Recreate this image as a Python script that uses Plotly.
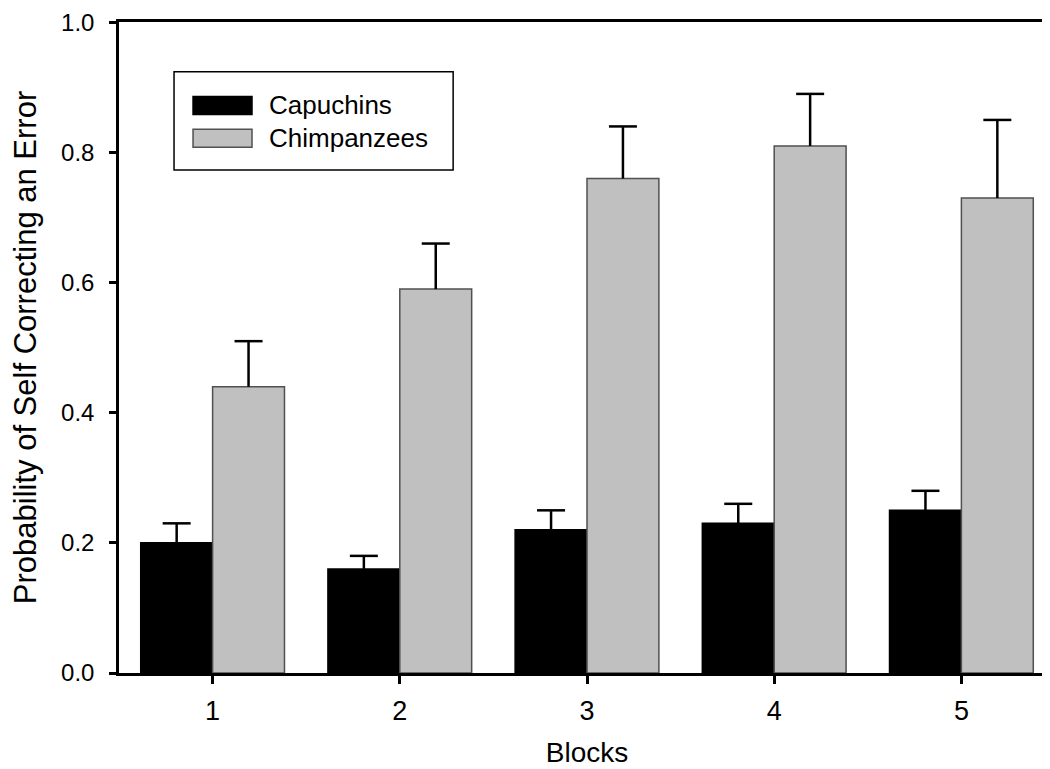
import plotly.graph_objects as go

blocks = [1, 2, 3, 4, 5]
series_names = ["Capuchins", "Chimpanzees"]
capuchins = [0.20, 0.16, 0.22, 0.23, 0.25]
capuchins_err = [0.03, 0.02, 0.03, 0.03, 0.03]
chimpanzees = [0.44, 0.59, 0.76, 0.81, 0.73]
chimpanzees_err = [0.07, 0.07, 0.08, 0.08, 0.12]
y_ticks = [0.0, 0.2, 0.4, 0.6, 0.8, 1.0]

FONT = "Arial, Liberation Sans, sans-serif"
colors = ["#000000", "#c0c0c0"]
edge = ["#000000", "#505050"]
GAP = 0.232

fig = go.Figure()
values = [capuchins, chimpanzees]
errors = [capuchins_err, chimpanzees_err]
for i, (name, vals, errs) in enumerate(zip(series_names, values, errors)):
    fig.add_trace(go.Bar(
        x=blocks, y=vals, name=name,
        marker=dict(color=colors[i], line=dict(color=edge[i], width=1.5)),
        error_y=dict(type="data", symmetric=False, array=errs,
                     arrayminus=[0] * len(errs), color="black",
                     thickness=2.5, width=0),
        showlegend=False,
    ))
# caps of the (upper-only) error bars
for i, (name, vals, errs) in enumerate(zip(series_names, values, errors)):
    fig.add_trace(go.Scatter(
        x=blocks, y=[v + e for v, e in zip(vals, errs)], mode="markers",
        offsetgroup=name, alignmentgroup="caps",
        marker=dict(symbol="line-ew", size=20, color="black",
                    line=dict(color="black", width=2.5)),
        showlegend=False, hoverinfo="skip",
    ))

# custom legend (box + swatches + labels) in paper coordinates
fig.add_shape(type="rect", xref="paper", yref="paper",
              x0=0.0588, x1=0.357, y0=0.7725, y1=0.9237,
              line=dict(color="black", width=1.5), fillcolor="white", layer="above")
sw_y = [(0.858, 0.8855), (0.8076, 0.8351)]
txt_y = [0.8725, 0.8221]
for i, name in enumerate(series_names):
    fig.add_shape(type="rect", xref="paper", yref="paper",
                  x0=0.0791, x1=0.1421, y0=sw_y[i][0], y1=sw_y[i][1],
                  fillcolor=colors[i], line=dict(color=edge[i], width=1.5), layer="above")
    fig.add_annotation(xref="paper", yref="paper", x=0.158, y=txt_y[i],
                       text=name, showarrow=False, xanchor="left", yanchor="middle",
                       font=dict(family=FONT, size=26, color="black"))

fig.update_layout(
    width=1050, height=769, autosize=False,
    margin=dict(l=111, r=3, t=14, b=104),
    paper_bgcolor="white", plot_bgcolor="white",
    barmode="group", bargap=GAP, bargroupgap=0,
    scattermode="group", scattergap=GAP,
    font=dict(family=FONT, color="black"),
)
fig.update_xaxes(
    range=[0.5, 5.5], tickvals=blocks, ticktext=[str(b) for b in blocks],
    automargin=False,
    showline=True, linecolor="black", linewidth=2.5, mirror=True,
    ticks="outside", ticklen=8, tickwidth=2.5, tickcolor="black",
    ticklabelstandoff=4,
    showgrid=False, zeroline=False,
    tickfont=dict(family=FONT, size=27),
    title=dict(text="Blocks", font=dict(family=FONT, size=28), standoff=18),
)
fig.update_yaxes(
    range=[0, 1.0005], tickvals=y_ticks, tickformat=".1f",
    automargin=False,
    showline=True, linecolor="black", linewidth=2.5, mirror=True,
    ticks="outside", ticklen=7, tickwidth=2.5, tickcolor="black",
    ticklabelstandoff=10, ticklabeloverflow="allow",
    showgrid=False, zeroline=False,
    tickfont=dict(family=FONT, size=24),
    title=dict(text="Probability of Self Correcting an Error",
               font=dict(family=FONT, size=31), standoff=20),
)

fig.write_html("out.html")
